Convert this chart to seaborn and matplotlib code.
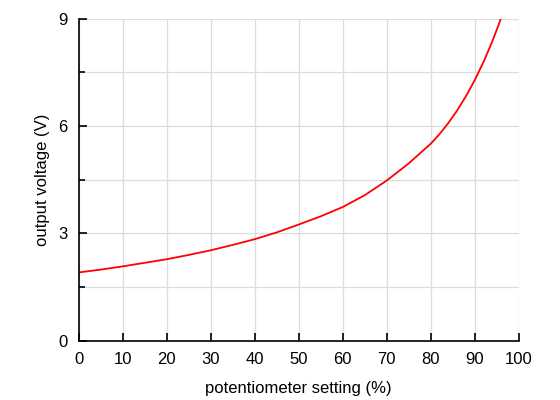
import matplotlib
matplotlib.use("Agg")
import matplotlib.pyplot as plt
import seaborn as sns
import pandas as pd
from matplotlib.ticker import MultipleLocator

pot_setting = [0, 5, 10, 15, 20, 25, 30, 35, 40, 45, 50, 55, 60, 65, 70, 75, 80, 82, 84, 86, 88, 90, 92, 94, 95, 96, 96.4]
output_v = [1.91, 1.99, 2.08, 2.18, 2.28, 2.40, 2.53, 2.68, 2.84, 3.03, 3.25, 3.48, 3.74, 4.07, 4.48, 4.96, 5.51, 5.78, 6.09, 6.44, 6.84, 7.29, 7.80, 8.38, 8.70, 9.03, 9.18]

x_ticks = [0, 10, 20, 30, 40, 50, 60, 70, 80, 90, 100]
y_ticks = [0, 3, 6, 9]

sns.set_theme(style="white")
plt.rcParams['font.family'] = ['Liberation Sans', 'DejaVu Sans']

df = pd.DataFrame({"pot": pot_setting, "v": output_v})

fig = plt.figure(figsize=(5.6, 4.0), dpi=100)
ax = fig.add_axes([0.1405, 0.148, 0.786, 0.805])

sns.lineplot(data=df, x="pot", y="v", ax=ax, color="#ff0000", linewidth=1.3)

ax.set_xlim(0, 100)
ax.set_ylim(0, 9)
ax.set_xticks(x_ticks)
ax.set_yticks(y_ticks)
ax.yaxis.set_minor_locator(MultipleLocator(1.5))

ax.grid(True, which="both", color="#dcdcdc", linewidth=0.9)
ax.set_axisbelow(True)

for s in ["top", "right"]:
    ax.spines[s].set_visible(False)
for s in ["left", "bottom"]:
    ax.spines[s].set_color("black")
    ax.spines[s].set_linewidth(1.2)

ax.tick_params(axis="both", which="major", direction="in", length=6, width=1.2,
               color="black", labelsize=12, pad=8, labelcolor="black",
               left=True, bottom=True)
ax.tick_params(axis="y", which="minor", direction="in", length=4, width=1.2,
               color="black", left=True)

ax.set_xlabel("potentiometer setting (%)", fontsize=12, color="black", labelpad=10)
ax.set_ylabel("output voltage (V)", fontsize=12, color="black", labelpad=6)

fig.savefig("out.png", dpi=100)
